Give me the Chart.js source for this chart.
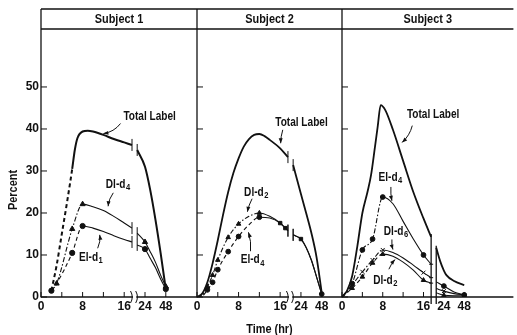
<!DOCTYPE html>
<html><head><meta charset="utf-8">
<script src="https://cdn.jsdelivr.net/npm/chart.js@4/dist/chart.umd.min.js"></script>
<style>
html,body{margin:0;padding:0;background:#fff;}
#wrap{position:relative;width:517px;height:335px;background:#fff;}
canvas{position:absolute;left:0;top:0;}
</style></head><body>
<div id="wrap">
<canvas id="c1" width="517" height="335"></canvas>
<canvas id="c2" width="517" height="335"></canvas>
<canvas id="c3" width="517" height="335"></canvas>
</div>
<script>
// ---------- tick values / labels ----------
const yTickValues = [0, 10, 20, 30, 40, 50];
const xLabelHours = [0, 8, 16, 24, 48];
const xMinorHours = [0, 4, 8, 12, 16, 24, 48];
const subjectTitles = ['Subject 1', 'Subject 2', 'Subject 3'];
const yTitle = 'Percent';
const xTitle = 'Time (hr)';

// ---------- Subject 1 (hours, percent; null = axis break) ----------
const s1TotalHr  = [2, 3, 4, 5, 6, 6.5, 7, 8, 9, 10, 12, 14, 16, 19, 20, 21, 24, 30, 36, 42, 48];
const s1TotalPct = [1.5, 7.5, 15, 22.5, 30.5, 35, 37.8, 39.4, 39.6, 39.4, 38.6, 37.6, 36.8, 36.2, null, 35, 31, 25.5, 18.5, 10.5, 1.8];
const s1DlHr  = [2, 3, 6, 8, 10, 12, 14, 16, 19, 20, 21, 24, 30, 36, 42, 48];
const s1DlPct = [1.5, 3.2, 16.2, 22.1, 21.5, 20.6, 19.2, 17.6, 16.4, null, 15.2, 13.1, 10.8, 8.3, 5.2, 2.5];
const s1ElPct = [1.5, 3.2, 10.5, 16.9, 16.4, 15.6, 14.6, 13.7, 13.1, null, 12.4, 11.4, 9.2, 7.0, 4.3, 1.9];

// ---------- Subject 2 ----------
const s2TotalHr  = [0, 1, 2, 3, 4, 5, 6, 7, 8, 9, 10, 11, 12, 13, 14, 16, 19, 20, 21, 24, 30, 36, 42, 48];
const s2TotalPct = [0, 0.8, 3.5, 8, 13.5, 19.5, 25, 29.5, 33, 35.8, 37.6, 38.6, 38.8, 38.3, 37.4, 35.4, 33.3, null, 31.4, 24.5, 20, 15.3, 9.5, 1];
const s2SeriesHr = [0, 1, 2, 3, 4, 6, 8, 10, 12, 14, 16, 18, 19, 20, 21, 24, 30, 36, 42, 48];
const s2DlPct = [0, 0.4, 2.5, 5.2, 8.8, 14.2, 17.4, 19.2, 20, 19.2, 17.6, 16.4, 15.8, null, 14.8, 13.8, 11.8, 8.8, 4.8, 0.7];
const s2ElPct = [0, 0.2, 1.7, 3.5, 6.5, 10.8, 14.4, 17.2, 19, 18.8, 17.6, 16.4, 15.8, null, 14.8, 13.8, 11.8, 8.8, 4.8, 0.7];

// ---------- Subject 3 ----------
const s3TotalHr  = [0, 1, 2, 3, 4, 5, 5.7, 6.5, 7, 7.6, 8.5, 10, 12, 14, 16, 19, 20, 21, 22.5, 24, 27, 36, 48];
const s3TotalPct = [0, 1.5, 5, 12, 20, 25, 29, 36, 40.5, 45.7, 44.5, 39.8, 32.4, 25, 18.7, 14.3, null, 11.7, 8.6, 6.3, 5.2, 3.8, 2.8];
const s3SeriesHr = [0, 2, 4, 6, 8, 10, 12, 14, 16, 19, 20, 21, 24, 36, 48];
const s3ElPct  = [0, 3.2, 11.2, 13.8, 23.8, 22.2, 18, 13.8, 10, 7.8, null, 3.6, 2.6, 1.2, 0.5];
const s3Dl6Pct = [0, 2.9, 6.0, 8.8, 11.2, 10.6, 9.3, 7.6, 5.8, 4.6, null, 2.0, 1.4, 0.8, 0.5];
const s3Dl2Pct = [0, 2.1, 4.8, 8.1, 10.2, 9.7, 8.3, 6.4, 4.0, 3.3, null, 1.0, 0.4, 0.3, 0.3];

// ---------- broken time axis: hours -> axis position ----------
function pos(h) {
  if (h <= 16) return h;
  if (h <= 24) return 16 + (h - 16) / 2;
  return 20 + (h - 24) / 6;
}

const FONT = '"Liberation Sans", Arial, sans-serif';
const INK = '#111';
const SX = 0.84; // condensed look for drawn labels

function series(hours, vals, o) {
  const marks = o.marks || [];
  return {
    data: hours.map((h, i) => ({ x: pos(h), y: vals[i] })),
    borderColor: INK, backgroundColor: INK,
    borderWidth: o.w || 1.1,
    pointBorderWidth: 1,
    pointRadius: ctx => marks.includes(hours[ctx.dataIndex]) ? (o.r || 2.6) : 0,
    pointStyle: ctx => {
      const h = hours[ctx.dataIndex];
      return (o.styleAt && o.styleAt[h]) || o.style || 'circle';
    },
    pointHoverRadius: 0,
    cubicInterpolationMode: 'monotone',
    spanGaps: false,
    fill: false,
    segment: {
      borderDash: ctx => (o.dash && ctx.p1.parsed.x <= pos(o.dashUntil) + 1e-6) ? o.dash : undefined
    }
  };
}

const DASH = [4, 3];
const DASHDOT = [5, 2, 1.5, 2];

const panels = [
  {
    id: 'c1', title: subjectTitles[0], padLeft: 0, padRight: 320, yWidth: 41, showY: true, xMax: 30,
    datasets: [
      series(s1TotalHr, s1TotalPct, { w: 2, dash: DASH, dashUntil: 6 }),
      series(s1DlHr, s1DlPct, { style: 'triangle', r: 3, marks: [3, 6, 8, 24, 48], dash: DASHDOT, dashUntil: 8 }),
      series(s1DlHr, s1ElPct, { style: 'circle', marks: [2, 6, 8, 24, 48], dash: DASH, dashUntil: 8 })
    ],
    notes: [
      { t: 'Total Label', x: 20.9, y: 42.9, from: [15.3, 41.3], to: [12.0, 38.9], bend: -4 },
      { t: 'Dl-d', s: '4', x: 14.8, y: 26.7, from: [13.9, 24.8], to: [12.9, 21.6], bend: 2 },
      { t: 'El-d', s: '1', x: 9.6, y: 9.3, from: [10.9, 11.6], to: [11.3, 14.8], bend: 2 }
    ]
  },
  {
    id: 'c2', title: subjectTitles[1], padLeft: 197, padRight: 175, yWidth: 0, showY: false, xMax: 27.9, xTitle: true,
    datasets: [
      series(s2TotalHr, s2TotalPct, { w: 1.8 }),
      series(s2SeriesHr, s2DlPct, { style: 'triangle', r: 2.6, marks: [2, 3, 4, 6, 8, 12], dash: DASHDOT, dashUntil: 12 }),
      series(s2SeriesHr, s2ElPct, { style: 'circle', r: 2.4, marks: [2, 3, 4, 6, 8, 12, 16, 18, 24, 48],
        styleAt: { 16: 'rect', 18: 'rect', 24: 'rect' }, dash: DASH, dashUntil: 12 })
    ],
    notes: [
      { t: 'Total Label', x: 20.1, y: 41.4, from: [16.5, 39.8], to: [16.1, 36.6], bend: 1 },
      { t: 'Dl-d', s: '2', x: 11.4, y: 24.8, from: [10.6, 23.4], to: [9.7, 20.3], bend: 1 },
      { t: 'El-d', s: '4', x: 10.7, y: 8.8, from: [10.3, 10.9], to: [9.9, 15.4], bend: 2 }
    ]
  },
  {
    id: 'c3', title: subjectTitles[2], padLeft: 342, padRight: 0, yWidth: 0, showY: false, xMax: 33.65, tallBreak: true,
    datasets: [
      series(s3TotalHr, s3TotalPct, { w: 1.8 }),
      series(s3SeriesHr, s3ElPct, { style: 'circle', r: 2.4, marks: [2, 4, 6, 8, 16, 24, 48], dash: DASHDOT, dashUntil: 8 }),
      series(s3SeriesHr, s3Dl6Pct, { style: 'crossRot', r: 2.8, marks: [2, 4, 6, 8, 16, 24], dash: DASHDOT, dashUntil: 8 }),
      series(s3SeriesHr, s3Dl2Pct, { style: 'triangle', r: 2.6, marks: [2, 4, 6, 8, 16, 24, 48], styleAt: { 48: 'rect' }, dash: DASH, dashUntil: 8 })
    ],
    notes: [
      { t: 'Total Label', x: 17.9, y: 43.3, from: [13.8, 40.8], to: [11.8, 36.8], bend: -3 },
      { t: 'El-d', s: '4', x: 9.5, y: 28.4, from: [9.6, 26.2], to: [9.8, 22.9], bend: 1 },
      { t: 'Dl-d', s: '6', x: 10.6, y: 15.6, from: [9.8, 13.7], to: [10.0, 11.3], bend: 1 },
      { t: 'Dl-d', s: '2', x: 8.5, y: 3.9, from: [9.2, 6.6], to: [10.4, 8.9], bend: -1 }
    ]
  }
];

function line(ctx, x1, y1, x2, y2) { ctx.beginPath(); ctx.moveTo(x1, y1); ctx.lineTo(x2, y2); ctx.stroke(); }

function narrowText(ctx, str, x, y, size) {
  ctx.save();
  ctx.font = 'bold ' + size + 'px ' + FONT;
  ctx.textAlign = 'left'; ctx.textBaseline = 'middle';
  ctx.translate(x, y); ctx.scale(SX, 1);
  ctx.fillText(str, 0, 0);
  ctx.restore();
}
function narrowWidth(ctx, str, size) {
  ctx.save(); ctx.font = 'bold ' + size + 'px ' + FONT;
  const w = ctx.measureText(str).width * SX; ctx.restore(); return w;
}

const framePlugin = {
  id: 'frame',
  afterDatasetsDraw(chart, args, o) {
    const p = o.panel;
    const ctx = chart.ctx, a = chart.chartArea, xs = chart.scales.x, ys = chart.scales.y;
    ctx.save();
    ctx.strokeStyle = INK; ctx.fillStyle = INK; ctx.lineCap = 'butt';
    const bx1 = xs.getPixelForValue(pos(19)), bx2 = xs.getPixelForValue(pos(21));
    // frame & header
    ctx.lineWidth = 1.3;
    line(ctx, a.left, 9, a.right, 9);
    line(ctx, a.left, a.top, a.right, a.top);
    line(ctx, a.left, 9, a.left, a.bottom + 0.5);
    line(ctx, a.left, a.bottom, a.right, a.bottom);
    const tw = narrowWidth(ctx, p.title, 13);
    narrowText(ctx, p.title, (a.left + a.right) / 2 - tw / 2, 19.5, 13);
    // inward ticks
    ctx.lineWidth = 1;
    yTickValues.forEach(v => { const y = ys.getPixelForValue(v); line(ctx, a.left, y, a.left + 6, y); });
    xMinorHours.forEach(h => { const x = xs.getPixelForValue(pos(h)); line(ctx, x, a.bottom, x, a.bottom - 5); });
    // breaks on the curves
    const pre = [], post = [];
    chart.data.datasets.forEach((ds, di) => {
      const meta = chart.getDatasetMeta(di);
      const k = ds.data.findIndex(d => d.y === null);
      if (k < 1) return;
      const e1 = meta.data[k - 1], e2 = meta.data[k + 1];
      pre.push(e1); post.push(e2);
      if (!p.tallBreak) {
        line(ctx, e1.x, e1.y - 6, e1.x, e1.y + 6);
        line(ctx, e2.x, e2.y - 6, e2.x, e2.y + 6);
      }
    });
    if (p.tallBreak) {
      ctx.lineWidth = 1.3;
      const t1 = Math.min(...pre.map(e => e.y)) - 3, t2 = Math.min(...post.map(e => e.y)) - 2;
      line(ctx, bx1, t1, bx1, a.bottom + 7);
      line(ctx, bx2, t2, bx2, a.bottom + 7);
      ctx.lineWidth = 1;
      pre.slice(1).forEach(e => line(ctx, e.x - 2, e.y, e.x + 2, e.y));
    } else {
      ctx.fillStyle = '#fff';
      ctx.fillRect(bx1 + 1, a.bottom - 2, bx2 - bx1 - 2, 4);
      ctx.fillStyle = INK;
      ctx.lineWidth = 1;
      [bx1, bx2].forEach(x => {
        ctx.beginPath(); ctx.moveTo(x - 1.5, a.bottom - 6); ctx.quadraticCurveTo(x + 2, a.bottom, x - 1.5, a.bottom + 6); ctx.stroke();
      });
    }
    // annotations
    p.notes.forEach(n => {
      const tx = xs.getPixelForValue(n.x), ty = ys.getPixelForValue(n.y);
      const w1 = narrowWidth(ctx, n.t, 12);
      const w2 = n.s ? narrowWidth(ctx, n.s, 9) + 0.5 : 0;
      const x0 = tx - (w1 + w2) / 2;
      narrowText(ctx, n.t, x0, ty, 12);
      if (n.s) narrowText(ctx, n.s, x0 + w1 + 0.5, ty + 3, 9);
      const fx = xs.getPixelForValue(n.from[0]), fy = ys.getPixelForValue(n.from[1]);
      const ex = xs.getPixelForValue(n.to[0]), ey = ys.getPixelForValue(n.to[1]);
      const mx = (fx + ex) / 2, my = (fy + ey) / 2;
      const dx = ex - fx, dy = ey - fy, L = Math.hypot(dx, dy) || 1;
      const cx = mx - dy / L * (n.bend || 0), cy = my + dx / L * (n.bend || 0);
      ctx.lineWidth = 1;
      ctx.beginPath(); ctx.moveTo(fx, fy); ctx.quadraticCurveTo(cx, cy, ex, ey); ctx.stroke();
      const ang = Math.atan2(ey - cy, ex - cx);
      ctx.beginPath();
      ctx.moveTo(ex, ey);
      ctx.lineTo(ex - 5 * Math.cos(ang) + 2 * Math.sin(ang), ey - 5 * Math.sin(ang) - 2 * Math.cos(ang));
      ctx.lineTo(ex - 5 * Math.cos(ang) - 2 * Math.sin(ang), ey - 5 * Math.sin(ang) + 2 * Math.cos(ang));
      ctx.closePath(); ctx.fill();
    });
    // axis titles
    if (p.showY) {
      const w = narrowWidth(ctx, yTitle, 13);
      ctx.save(); ctx.translate(13, 190); ctx.rotate(-Math.PI / 2);
      narrowText(ctx, yTitle, -w / 2, 0, 13);
      ctx.restore();
    }
    if (p.xTitle) {
      const w = narrowWidth(ctx, xTitle, 13);
      narrowText(ctx, xTitle, (a.left + a.right) / 2 - w / 2, 329, 13);
    }
    ctx.restore();
  }
};

panels.forEach(p => {
  new Chart(document.getElementById(p.id), {
    type: 'line',
    data: { datasets: p.datasets },
    plugins: [framePlugin],
    options: {
      responsive: false, animation: false, devicePixelRatio: 1,
      layout: { padding: { left: p.padLeft, right: p.padRight, top: 29, bottom: 0 } },
      plugins: { legend: { display: false }, tooltip: { enabled: false }, frame: { panel: p } },
      events: [],
      scales: {
        x: {
          type: 'linear', min: 0, max: p.xMax,
          grid: { display: false, drawTicks: false }, border: { display: false },
          afterBuildTicks: s => { s.ticks = xLabelHours.map(h => ({ value: pos(h) })); },
          afterFit: s => { s.height = 38; },
          ticks: {
            autoSkip: false, maxRotation: 0, padding: 2, color: INK,
            font: { family: FONT, size: 12, weight: 'bold' },
            callback: v => { const i = xLabelHours.findIndex(h => Math.abs(pos(h) - v) < 1e-6); return i >= 0 ? String(xLabelHours[i]) : ''; }
          }
        },
        y: {
          type: 'linear', min: 0, max: 63.8, display: p.showY,
          grid: { display: false, drawTicks: false }, border: { display: false },
          afterBuildTicks: s => { s.ticks = yTickValues.map(v => ({ value: v })); },
          afterFit: s => { s.width = p.yWidth; },
          ticks: { padding: 2, color: INK, font: { family: FONT, size: 12, weight: 'bold' } }
        }
      }
    }
  });
});
</script>
</body></html>
